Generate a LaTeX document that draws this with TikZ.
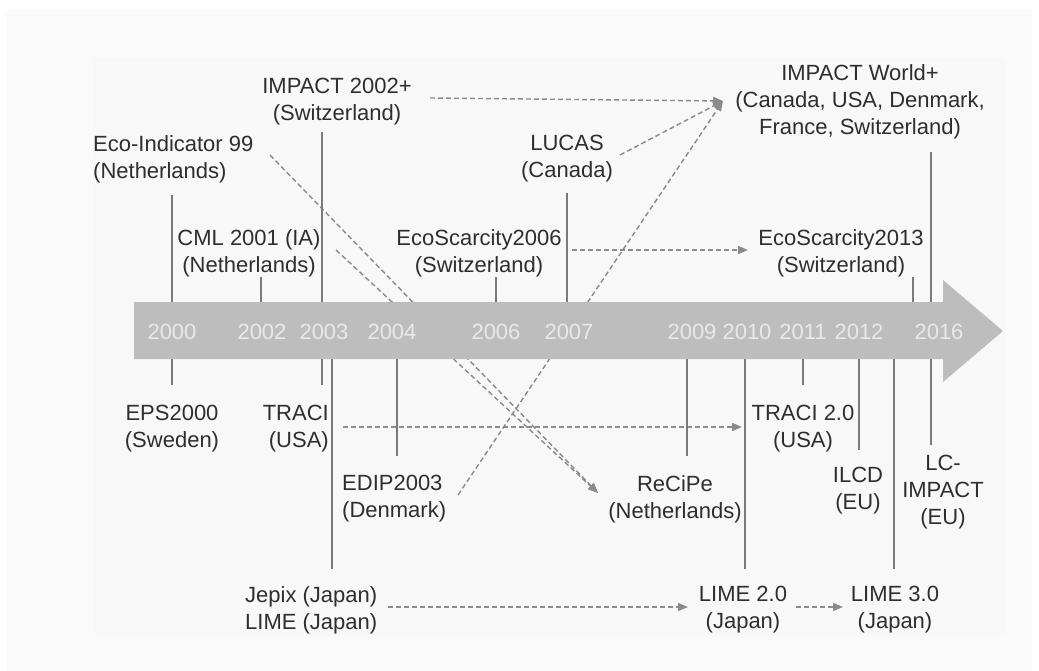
\documentclass[tikz,border=0pt]{standalone}
\usepackage{fontspec}
\setmainfont{Liberation Sans}
\usetikzlibrary{arrows.meta}
\definecolor{txt}{HTML}{2E2E2E}
\definecolor{bandc}{HTML}{BDBDBD}
\definecolor{yearc}{HTML}{E9E9E9}
\definecolor{tickc}{HTML}{7A7A7A}
\definecolor{dashc}{HTML}{8A8A8A}
\definecolor{outerbg}{HTML}{FAFAFA}
\definecolor{innerbg}{HTML}{F8F8F8}
\tikzset{
  lbl/.style={text=txt, font=\fontsize{22}{27}\selectfont, inner sep=0pt, align=center},
  yr/.style={text=yearc, font=\fontsize{22}{27}\selectfont, inner sep=0pt},
  tick/.style={draw=tickc, line width=2.2pt},
  darr/.style={draw=dashc, line width=1.4pt, dash pattern=on 5pt off 3pt,
    -{Triangle[length=10pt,width=8pt]}, fill=none},
}
\begin{document}
\begin{tikzpicture}[x=1pt,y=-1pt]
\useasboundingbox (0,0) rectangle (1039,671);
\fill[white] (0,0) rectangle (1039,671);
\fill[outerbg] (6,10) rectangle (1032,671);
\fill[innerbg] (93,58) rectangle (1005,635);

% labels
\node[lbl] (impact02) at (337,102) {IMPACT 2002+\\(Switzerland)};
\node[lbl, anchor=west, align=left] (eco99) at (93,159) {Eco-Indicator 99\\(Netherlands)};
\node[lbl] (cml) at (249,253) {CML 2001 (IA)\\(Netherlands)};
\node[lbl] (esc06) at (479,253) {EcoScarcity2006\\(Switzerland)};
\node[lbl] (lucas) at (567,159) {LUCAS\\(Canada)};
\node[lbl] (world) at (860,102) {IMPACT World+\\(Canada, USA, Denmark,\\France, Switzerland)};
\node[lbl] (esc13) at (841,253) {EcoScarcity2013\\(Switzerland)};
\node[lbl] (eps) at (172,429) {EPS2000\\(Sweden)};
\node[lbl, anchor=east, align=right] (traci) at (329,429) {TRACI\\(USA)};
\node[lbl, anchor=west, align=left] (edip) at (342,499) {EDIP2003\\(Denmark)};
\node[lbl, anchor=west, align=left] (jepix) at (245,610) {Jepix (Japan)\\LIME (Japan)};
\node[lbl] (recipe) at (675,499) {ReCiPe\\(Netherlands)};
\node[lbl] (traci2) at (803,429) {TRACI 2.0\\(USA)};
\node[lbl] (ilcd) at (858,491) {ILCD\\(EU)};
\node[lbl] (lcimpact) at (943,492) {LC-\\IMPACT\\(EU)};
\node[lbl] (lime2) at (743,610) {LIME 2.0\\(Japan)};
\node[lbl] (lime3) at (895,610) {LIME 3.0\\(Japan)};

% connector end points
\coordinate (wtip) at (723,101);
\coordinate (rtip) at (598,493);
\coordinate (impS) at (430,98);
\coordinate (lucS) at (620,155);
\coordinate (edS) at (458,495);
\coordinate (ecoS) at (270,155);
\coordinate (cmlS) at (336,250);
\coordinate (e06S) at (572,250);
\coordinate (e13T) at (748,250);
\coordinate (trS) at (343,427);
\coordinate (tr2T) at (742,427);
\coordinate (jpS) at (388,607);
\coordinate (l2T) at (688,607);
\coordinate (l2S) at (796,607);
\coordinate (l3T) at (843,607);

% dashed connectors (under the band)
\draw[darr] (impS) -- (wtip);
\draw[darr] (lucS) -- (wtip);
\draw[darr] (edS) -- (wtip);
\draw[darr] (ecoS) -- (rtip);
\draw[darr] (cmlS) -- (rtip);
\draw[darr] (e06S) -- (e13T);
\draw[darr] (trS) -- (tr2T);
\draw[darr] (jpS) -- (l2T);
\draw[darr] (l2S) -- (l3T);

% band arrow
\fill[bandc] (134,302) -- (943,302) -- (943,280) -- (1003,331) -- (943,382) -- (943,359) -- (134,359) -- cycle;

% years
\foreach \x/\y in {172/2000, 262/2002, 324/2003, 392/2004, 496/2006, 569/2007, 692/2009, 747/2010, 803/2011, 859/2012, 939/2016}
  \node[yr] (y\y) at (\x,332) {\y};

% ticks above
\draw[tick] (172,302) -- (172,195);
\draw[tick] (261,302) -- (261,277);
\draw[tick] (322,302) -- (322,132);
\draw[tick] (496,302) -- (496,277);
\draw[tick] (567,302) -- (567,193);
\draw[tick] (913,302) -- (913,277);
\draw[tick] (931,302) -- (931,152);
% ticks below
\draw[tick] (172,359) -- (172,385);
\draw[tick] (322,359) -- (322,385);
\draw[tick] (332,359) -- (332,569);
\draw[tick] (397,359) -- (397,456);
\draw[tick] (687,359) -- (687,456);
\draw[tick] (745,359) -- (745,569);
\draw[tick] (803,359) -- (803,385);
\draw[tick] (859,359) -- (859,450);
\draw[tick] (894,359) -- (894,569);
\draw[tick] (931,359) -- (931,445);
\end{tikzpicture}
\end{document}
